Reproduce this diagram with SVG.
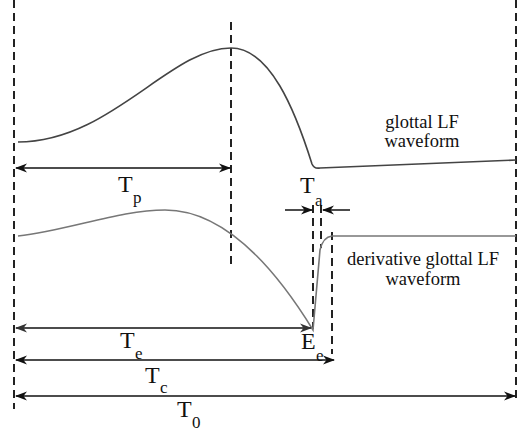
<svg xmlns="http://www.w3.org/2000/svg" width="524" height="434" viewBox="0 0 524 434">
<defs>
<marker id="ah" viewBox="0 0 12 10" refX="11" refY="5" markerWidth="12" markerHeight="10" markerUnits="userSpaceOnUse" orient="auto-start-reverse">
<path d="M0,0.5 L12,5 L0,9.5 L3.5,5 Z" fill="#111"/>
</marker>
<marker id="ahg" viewBox="0 0 12 10" refX="11" refY="5" markerWidth="12" markerHeight="10" markerUnits="userSpaceOnUse" orient="auto-start-reverse">
<path d="M0,0.5 L12,5 L0,9.5 L3.5,5 Z" fill="#333"/>
</marker>
</defs>
<style>
.dash{stroke:#222;stroke-width:2;stroke-dasharray:8,5;fill:none}
.arr{stroke:#111;stroke-width:1.5;fill:none}
.curve{fill:none;stroke-width:1.6}
text{font-family:'Liberation Serif','DejaVu Serif',serif;fill:#111}
.big{font-size:24px}
.sub{font-size:17px}
.txt{font-size:18.5px;text-anchor:middle}
</style>
<rect width="524" height="434" fill="#fff"/>
<g id="guides">
<line class="dash" x1="14" y1="0" x2="14" y2="409"/>
<line class="dash" x1="516" y1="0" x2="516" y2="402"/>
<line class="dash" x1="231" y1="22" x2="231" y2="268"/>
<line class="dash" x1="313" y1="205" x2="313" y2="329"/>
<line class="dash" x1="321" y1="205" x2="321" y2="248"/>
<line class="dash" x1="332" y1="232" x2="332" y2="354"/>
</g>
<g id="glottal">
<path class="curve" stroke="#444" d="M18,142 C110,142 170,48 231,48 C270,48 295,110 312,164 Q314,169 320,168 L516,160"/>
<text class="txt" font-family="Liberation Serif, serif" x="422" y="128">glottal LF</text>
<text class="txt" font-family="Liberation Serif, serif" x="422" y="147">waveform</text>
</g>
<g id="derivative">
<path class="curve" stroke="#777" d="M18,236 C70,230 120,210 165,210 C220,210 270,260 313,330 L320,250 Q323,237 332,236 L516,236"/>
<text class="txt" font-family="Liberation Serif, serif" x="423" y="265">derivative glottal LF</text>
<text class="txt" font-family="Liberation Serif, serif" x="423" y="285">waveform</text>
</g>
<g id="connectors">
<line class="arr" x1="16" y1="168" x2="230" y2="168" marker-start="url(#ah)" marker-end="url(#ah)"/>
<line class="arr" x1="285" y1="210" x2="312" y2="210" marker-end="url(#ah)"/>
<line class="arr" x1="350" y1="210" x2="323" y2="210" marker-end="url(#ah)"/>
<line class="arr" stroke="#444" x1="16" y1="328" x2="311" y2="328" marker-start="url(#ahg)" marker-end="url(#ahg)"/>
<line class="arr" x1="16" y1="360" x2="334" y2="360" marker-start="url(#ah)" marker-end="url(#ah)"/>
<line class="arr" x1="16" y1="396" x2="515" y2="396" marker-start="url(#ah)" marker-end="url(#ah)"/>
</g>
<g id="labels" font-family="Liberation Serif, serif">
<text class="big" x="118" y="192">T</text><text class="sub" x="133" y="203">p</text>
<text class="big" x="300" y="193">T</text><text class="sub" x="315" y="206">a</text>
<text class="big" x="120" y="348">T</text><text class="sub" x="135" y="359">e</text>
<text class="big" x="145" y="383">T</text><text class="sub" x="160" y="393">c</text>
<text class="big" x="177" y="417">T</text><text class="sub" x="192" y="428">0</text>
<text class="big" x="301" y="349">E</text><text class="sub" x="316" y="361">e</text>
</g>
</svg>
